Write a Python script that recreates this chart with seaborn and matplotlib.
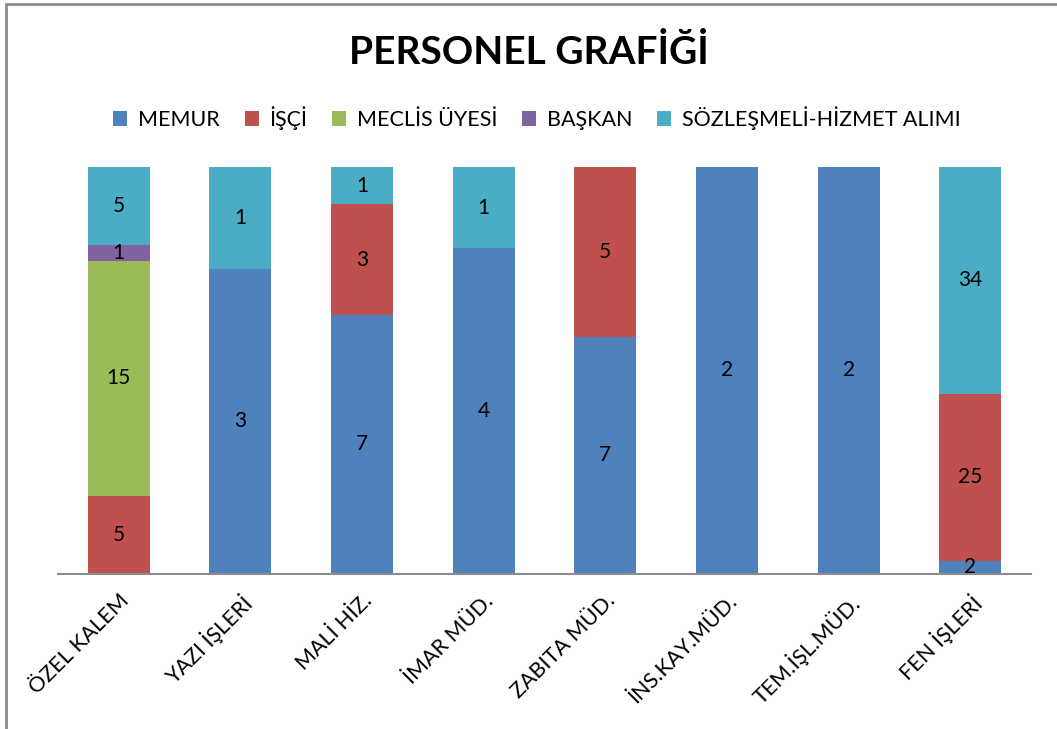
import numpy as np
import pandas as pd
import matplotlib
matplotlib.use("Agg")
import matplotlib.pyplot as plt
from matplotlib.patches import Patch, Rectangle
import seaborn as sns

# data
birimler = ["ÖZEL KALEM", "YAZI İŞLERİ", "MALİ HİZ.", "İMAR MÜD.", "ZABITA MÜD.",
            "İNS.KAY.MÜD.", "TEM.İŞL.MÜD.", "FEN İŞLERİ"]
memur = [0, 3, 7, 4, 7, 2, 2, 2]
isci = [5, 0, 3, 0, 5, 0, 0, 25]
meclis = [15, 0, 0, 0, 0, 0, 0, 0]
baskan = [1, 0, 0, 0, 0, 0, 0, 0]
sozlesmeli = [5, 1, 1, 1, 0, 0, 0, 34]

seriler = ["MEMUR", "İŞÇİ", "MECLİS ÜYESİ", "BAŞKAN", "SÖZLEŞMELİ-HİZMET ALIMI"]
renkler = ["#4F81BD", "#C0504D", "#9BBB59", "#8064A2", "#4BACC6"]

sns.set_style("white")
plt.rcParams["font.family"] = ["Lato", "DejaVu Sans"]
plt.rcParams["text.color"] = "black"
plt.rcParams["xtick.color"] = "black"

df = pd.DataFrame({"MEMUR": memur, "İŞÇİ": isci, "MECLİS ÜYESİ": meclis,
                   "BAŞKAN": baskan, "SÖZLEŞMELİ-HİZMET ALIMI": sozlesmeli},
                  index=birimler)
toplam = df.sum(axis=1)
oran = df.div(toplam, axis=0) * 100

fig = plt.figure(figsize=(10.57, 7.29), dpi=100)
ax = fig.add_axes([58 / 1057, 1 - 574 / 729, 973 / 1057, 407 / 729])

alt = np.zeros(len(birimler))
for seri, renk in zip(seriler, renkler):
    yuk = oran[seri].values
    sns.barplot(x=birimler, y=yuk, bottom=alt, color=renk, width=0.51,
                ax=ax, saturation=1, linewidth=0)
    for i, (v, h) in enumerate(zip(df[seri].values, yuk)):
        if v > 0:
            ax.text(i, alt[i] + h / 2, str(v), ha="center", va="center",
                    fontsize=15, color="black")
    alt += yuk

ax.set_xlim(-0.5, 7.5)
ax.set_ylim(0, 100)
ax.set_yticks([])
ax.set_ylabel("")
for s in ["top", "right", "left"]:
    ax.spines[s].set_visible(False)
ax.spines["bottom"].set_color("#8c8c8c")
ax.spines["bottom"].set_linewidth(1.5)
ax.tick_params(axis="x", length=0, pad=12)
ax.set_xticks(range(len(birimler)))
ax.set_xticklabels(birimler, rotation=45, ha="right", rotation_mode="anchor",
                   fontsize=15.5)

fig.text(0.5, 1 - 52 / 729, "PERSONEL GRAFİĞİ", ha="center", va="center",
         fontsize=28, fontweight="bold", color="black")

handles = [Patch(facecolor=c, edgecolor="none") for c in renkler]
fig.legend(handles, seriler, loc="center", bbox_to_anchor=(0.508, 1 - 118 / 729),
           ncol=5, frameon=False, fontsize=15.5, handlelength=0.65, handleheight=0.65,
           handletextpad=0.5, columnspacing=1.15)

fig.patches.append(Rectangle((6 / 1057, -0.05), 1.2, 1 - 4 / 729 + 0.05,
                             transform=fig.transFigure, fill=False,
                             edgecolor="#8c8c8c", linewidth=2))

fig.savefig("out.png", dpi=100)
